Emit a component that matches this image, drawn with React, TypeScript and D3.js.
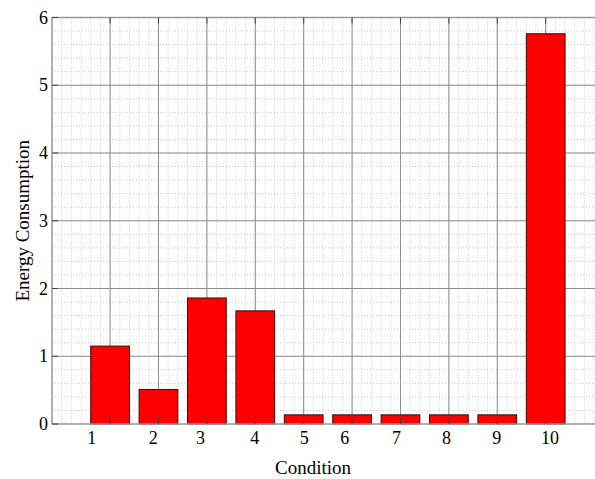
import React from "react";
import * as d3 from "d3";

const categories = [1, 2, 3, 4, 5, 6, 7, 8, 9, 10];
const energyValues = [1.15, 0.51, 1.86, 1.67, 0.135, 0.135, 0.135, 0.135, 0.135, 5.76];
const xTickLabels = ["1", "2", "3", "4", "5", "6", "7", "8", "9", "10"];
// where each x tick label sits (in category units), as in the original export
const xTickLabelPositions = [0.62, 1.89, 2.87, 3.99, 5.01, 5.85, 6.92, 7.95, 8.99, 10.09];
const yTicks = [0, 1, 2, 3, 4, 5, 6];

const W = 595;
const H = 479;
const left = 52;
const top = 17.5;
const bottom = 424;

export default function App() {
  const x = d3.scaleLinear().domain([-0.2, 11.2]).range([left, left + 11.4 * 48.4]);
  const y = d3.scaleLinear().domain([0, 6]).range([bottom, top]);
  const barW = x(0.8) - x(0);

  const minorX = d3.range(-0.2, 11.2001, 0.2).map((v) => +v.toFixed(2));
  const minorY = d3.range(0, 6.0001, 0.2).map((v) => +v.toFixed(2));
  const right = W + 5;

  const font = "'Liberation Serif', 'Times New Roman', serif";

  return (
    <svg
      width={W}
      height={H}
      style={{ position: "absolute", left: 0, top: 0, background: "#fff" }}
      fontFamily={font}
    >
      <rect x={0} y={0} width={W} height={H} fill="#fff" />
      {/* minor grid */}
      {minorX.map((v, i) => (
        <line
          key={"mx" + i}
          x1={x(v)}
          x2={x(v)}
          y1={top}
          y2={bottom}
          stroke="#c8c8c8"
          strokeWidth={1}
          strokeDasharray="1,2"
        />
      ))}
      {minorY.map((v, i) => (
        <line
          key={"my" + i}
          x1={left}
          x2={right}
          y1={y(v)}
          y2={y(v)}
          stroke="#c8c8c8"
          strokeWidth={1}
          strokeDasharray="1,2"
        />
      ))}
      {/* major grid */}
      {categories.map((c) => (
        <line key={"gx" + c} x1={x(c)} x2={x(c)} y1={top} y2={bottom} stroke="#8c8c8c" strokeWidth={1} />
      ))}
      {yTicks.slice(1).map((t) => (
        <line key={"gy" + t} x1={left} x2={right} y1={y(t)} y2={y(t)} stroke="#8c8c8c" strokeWidth={1} />
      ))}
      {/* bars */}
      {categories.map((c, i) => (
        <rect
          key={"b" + c}
          x={x(c) - barW / 2}
          y={y(energyValues[i])}
          width={barW}
          height={bottom - y(energyValues[i])}
          fill="#ff0000"
          stroke="#3a0a0a"
          strokeWidth={1}
        />
      ))}
      {/* axes box */}
      <line x1={left} x2={left} y1={top} y2={bottom} stroke="#999" strokeWidth={1.5} />
      <line x1={left} x2={right} y1={bottom} y2={bottom} stroke="#999" strokeWidth={1.5} />
      <line x1={left} x2={right} y1={top} y2={top} stroke="#999" strokeWidth={1.5} />
      {/* tick marks */}
      {categories.map((c) => (
        <g key={"t" + c}>
          <line x1={x(c)} x2={x(c)} y1={bottom} y2={bottom - 6} stroke="#444" strokeWidth={1} />
          <line x1={x(c)} x2={x(c)} y1={top} y2={top + 6} stroke="#444" strokeWidth={1} />
        </g>
      ))}
      {yTicks.map((t) => (
        <line key={"ty" + t} x1={left} x2={left + 6} y1={y(t)} y2={y(t)} stroke="#444" strokeWidth={1} />
      ))}
      {/* tick labels */}
      {xTickLabels.map((lab, i) => (
        <text
          key={"xl" + i}
          x={x(xTickLabelPositions[i])}
          y={444}
          textAnchor="middle"
          fontSize={18}
          fill="#000"
        >
          {lab}
        </text>
      ))}
      {yTicks.map((t) => (
        <text key={"yl" + t} x={48} y={y(t) + 6} textAnchor="end" fontSize={18} fill="#000">
          {t}
        </text>
      ))}
      {/* axis titles */}
      <text x={313} y={474} textAnchor="middle" fontSize={19} fill="#000">
        Condition
      </text>
      <text
        transform={`translate(29, ${(top + bottom) / 2}) rotate(-90)`}
        textAnchor="middle"
        fontSize={19}
        fill="#000"
      >
        Energy Consumption
      </text>
    </svg>
  );
}
